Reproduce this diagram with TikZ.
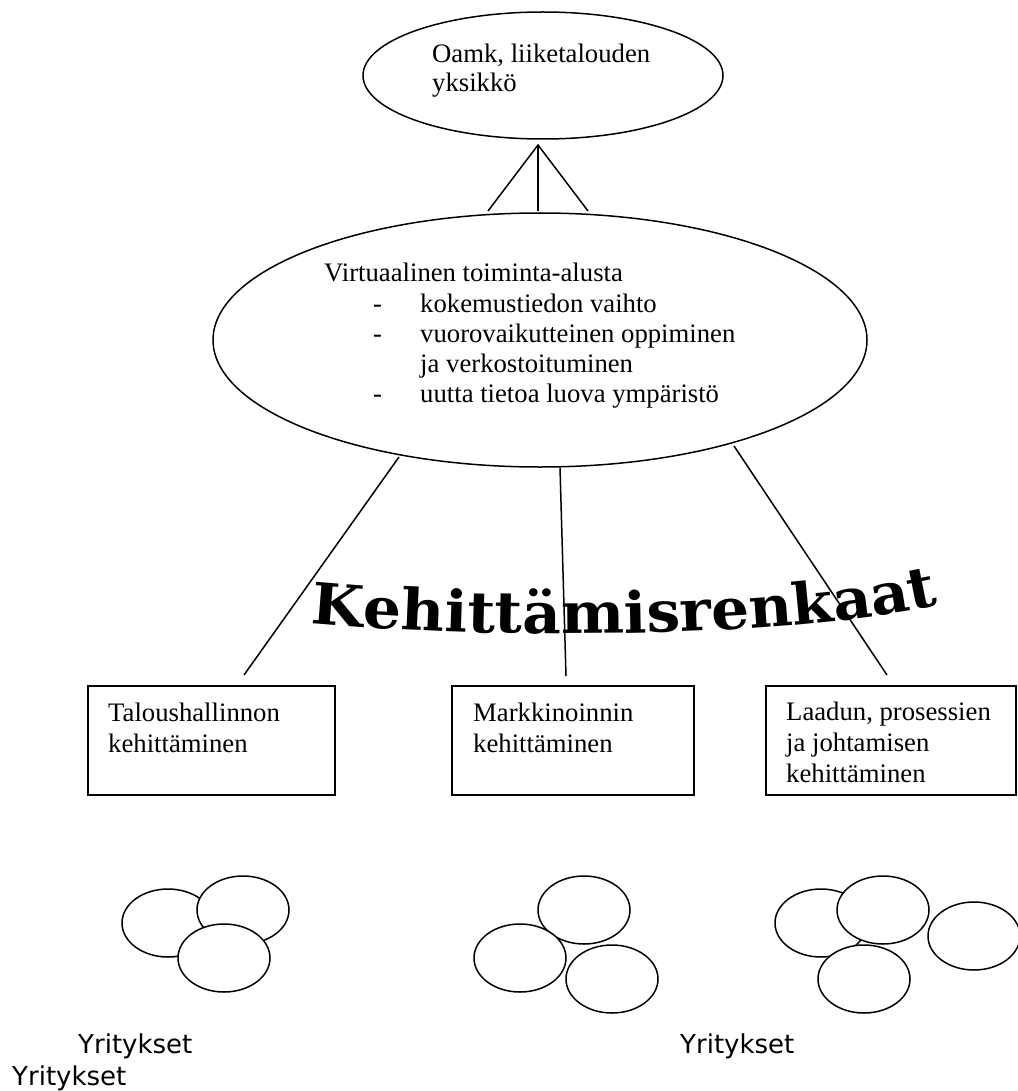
\documentclass[tikz,border=0pt]{standalone}
\usepackage{fontspec}
\setmainfont{Liberation Serif}
\newfontfamily\yrfont{DejaVu Sans}
\newfontfamily\kehfont{DejaVu Serif}[FakeStretch=1.05]
\usetikzlibrary{shapes.geometric,decorations.text}
\begin{document}
\begin{tikzpicture}[x=1pt,y=-1pt,
  conn/.style={line width=1.5pt},
  oval/.style={draw,ellipse,line width=1.5pt,inner sep=0pt,fill=white},
  boxnode/.style={draw,rectangle,line width=1.5pt,inner sep=0pt},
  txt/.style={anchor=base west,inner sep=0pt,font=\fontsize{26.7}{30}\selectfont},
  yr/.style={anchor=base west,inner sep=0pt,font=\yrfont\fontsize{26}{30}\selectfont},
  firm/.style={oval,minimum width=92pt,minimum height=68pt}]
\useasboundingbox (0,0) rectangle (1017,1091);
\fill[white] (0,0) rectangle (1017,1091);

% top ellipse
\node[oval,minimum width=360pt,minimum height=127pt] (oamk) at (543,75.5) {};
\node[txt] (oamk1) at (432,63) {Oamk, liiketalouden};
\node[txt] (oamk2) at (432,92) {yksikkö};

% big ellipse
\node[oval,minimum width=654pt,minimum height=254pt] (virt) at (540,340) {};
\node[txt] (v0) at (324,281) {Virtuaalinen toiminta-alusta};
\node[txt] (d1) at (373,312) {-};
\node[txt] (v1) at (420,312) {kokemustiedon vaihto};
\node[txt] (d2) at (373,342) {-};
\node[txt] (v2) at (420,342) {vuorovaikutteinen oppiminen};
\node[txt] (v3) at (420,372) {ja verkostoituminen};
\node[txt] (d3) at (373,402) {-};
\node[txt] (v4) at (420,402) {uutta tietoa luova ympäristö};

% connectors top
\coordinate (apex) at (538,145);
\coordinate (vt1) at (488,211);
\coordinate (vt2) at (538,211);
\coordinate (vt3) at (588,211);
\draw[conn] (vt1) -- (apex) -- (vt3);
\draw[conn] (apex) -- (vt2);

% boxes
\node[boxnode,minimum width=247pt,minimum height=109pt] (b1) at (211.5,740.5) {};
\node[boxnode,minimum width=242pt,minimum height=109pt] (b2) at (573,740.5) {};
\node[boxnode,minimum width=250pt,minimum height=109pt] (b3) at (891,740.5) {};
\node[txt] (b1a) at (108,721) {Taloushallinnon};
\node[txt] (b1b) at (108,752) {kehittäminen};
\node[txt] (b2a) at (473,721) {Markkinoinnin};
\node[txt] (b2b) at (473,752) {kehittäminen};
\node[txt] (b3a) at (786,720) {Laadun, prosessien};
\node[txt] (b3b) at (786,751) {ja johtamisen};
\node[txt] (b3c) at (786,782) {kehittäminen};

% lower connectors
\coordinate (l1s) at (399,457);
\coordinate (l1e) at (244,675);
\coordinate (l2s) at (560,468);
\coordinate (l2e) at (566,676);
\coordinate (l3s) at (734,446);
\coordinate (l3e) at (887,675);
\draw[conn] (l1s) -- (l1e);
\draw[conn] (l2s) -- (l2e);
\draw[conn] (l3s) -- (l3e);

% WordArt title
\path[decorate,decoration={text along path,
  text={|\kehfont\bfseries\fontsize{57}{57}\selectfont|Kehittämisrenkaat},
  text align=center}]
  (281,620) .. controls (468,641) and (818,641) .. (968,597);

% company groups
\node[firm] (f1a) at (168,923) {};
\node[firm] (f1b) at (243,910) {};
\node[firm] (f1c) at (224,958) {};

\node[firm] (f2a) at (584,910) {};
\node[firm] (f2b) at (520,958) {};
\node[firm] (f2c) at (612,979) {};

\node[firm] (f3a) at (821,923) {};
\node[firm] (f3b) at (883,910) {};
\node[firm] (f3c) at (864,979) {};
\node[firm] (f3d) at (974,936) {};

\node[yr] (y1) at (78,1053) {Yritykset};
\node[yr] (y2) at (680,1053) {Yritykset};
\node[yr] (y3) at (12,1085) {Yritykset};
\end{tikzpicture}
\end{document}
